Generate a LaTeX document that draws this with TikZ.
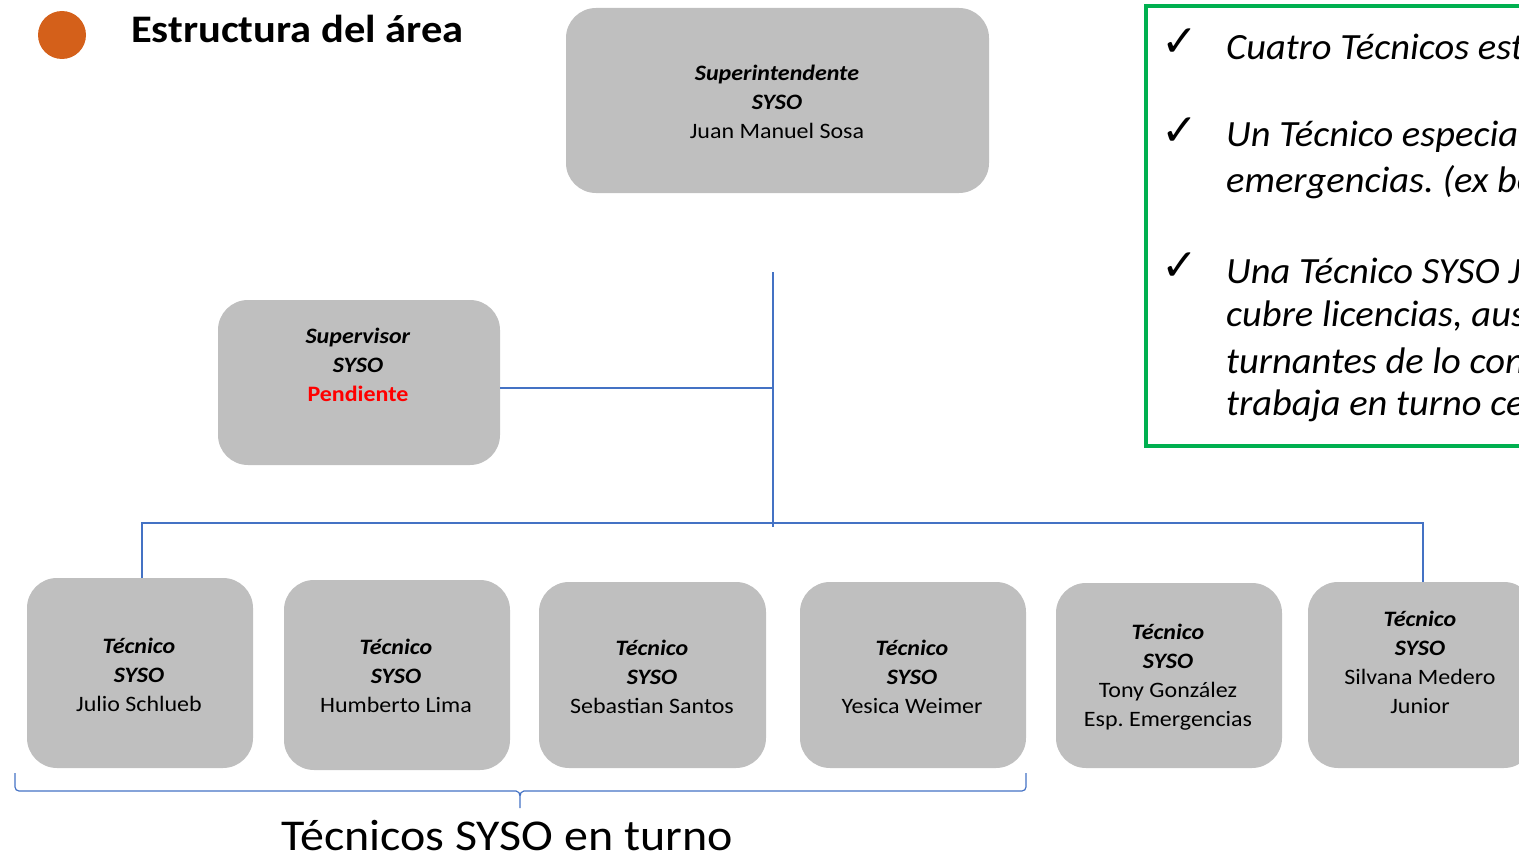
\documentclass[tikz,border=0pt]{standalone}
\usepackage{fontspec}
\usetikzlibrary{calc}
\setmainfont{Carlito}[FakeStretch=1.09]
\newfontfamily\notefont{Carlito}[FakeStretch=1.04]
\newfontfamily\symfont{DejaVu Sans}
\definecolor{boxgray}{HTML}{BFBFBF}
\definecolor{linkblue}{HTML}{4472C4}
\definecolor{okgreen}{HTML}{00B050}
\definecolor{dotorange}{HTML}{D4601A}
\frenchspacing
\begin{document}
\begin{tikzpicture}[x=1pt,y=-1pt,
  orgbox/.style={fill=boxgray,draw=none,rounded corners=30pt,inner sep=0pt},
  boxtext/.style={align=center,font=\fontsize{22}{29}\selectfont,inner sep=0pt},
  link/.style={draw=linkblue,line width=1.6pt},
  notetext/.style={anchor=west,font=\notefont\fontsize{37}{45}\selectfont\itshape,inner sep=0pt},
  tick/.style={font=\fontsize{44}{46}\selectfont\symfont,inner sep=0pt}]
\useasboundingbox (0,0) rectangle (1519,859);
\clip (0,0) rectangle (1519,859);
% title
\fill[dotorange] (62,35) circle (24);
\node[anchor=west,inner sep=0pt,font=\fontsize{39}{40}\selectfont\bfseries] (title) at (131,29) {Estructura del área};
% boxes
\node[orgbox,minimum width=423,minimum height=185] (sup) at (777.5,100.5) {};
\node[boxtext] (supT) at (777,102) {\textbf{\textit{Superintendente}}\\\textbf{\textit{SYSO}}\\Juan Manuel Sosa};
\node[orgbox,minimum width=282,minimum height=165] (spv) at (359,382.5) {};
\node[boxtext] (spvT) at (358,365) {\textbf{\textit{Supervisor}}\\\textbf{\textit{SYSO}}\\\textcolor{red}{\textbf{Pendiente}}};
\node[orgbox,minimum width=226,minimum height=190] (t1) at (140,673) {};
\node[boxtext] (t1T) at (139,675) {\textbf{\textit{Técnico}}\\\textbf{\textit{SYSO}}\\Julio Schlueb};
\node[orgbox,minimum width=226,minimum height=190] (t2) at (397,675) {};
\node[boxtext] (t2T) at (396,676) {\textbf{\textit{Técnico}}\\\textbf{\textit{SYSO}}\\Humberto Lima};
\node[orgbox,minimum width=227,minimum height=186] (t3) at (652.5,675) {};
\node[boxtext] (t3T) at (652,677) {\textbf{\textit{Técnico}}\\\textbf{\textit{SYSO}}\\Sebastian Santos};
\node[orgbox,minimum width=226,minimum height=186] (t4) at (913,675) {};
\node[boxtext] (t4T) at (912,677) {\textbf{\textit{Técnico}}\\\textbf{\textit{SYSO}}\\Yesica Weimer};
\node[orgbox,minimum width=226,minimum height=185] (t5) at (1169,675.5) {};
\node[boxtext] (t5T) at (1168,677.5) {\textbf{\textit{Técnico}}\\\textbf{\textit{SYSO}}\\Tony González\\Esp. Emergencias};
\node[orgbox,minimum width=226,minimum height=186] (t6) at (1421,675) {};
\node[boxtext] (t6T) at (1420,662) {\textbf{\textit{Técnico}}\\\textbf{\textit{SYSO}}\\Silvana Medero\\Junior};
% connectors
\coordinate (vtop) at (773,272);
\coordinate (vbot) at (773,527);
\coordinate (hl) at (142,523);
\coordinate (hr) at (1423,523);
\coordinate (spvout) at ($(spv.east)+(0,5.5)$);
\draw[link] (vtop) -- (vbot);
\draw[link] (spvout) -- (spvout -| vtop);
\draw[link] (t1.north -| hl) -- (hl) -- (hr) -- (t6.north -| hr);
% brace
\coordinate (bl) at (15,773);
\coordinate (br) at (1026,773);
\coordinate (bm) at (520,808);
\draw[draw=linkblue,line width=1.2pt]
  (bl) -- (15,787) to[out=-90,in=180] (19,791) -- (516,791) to[out=0,in=90] (bm |- 0,796) -- (bm)
  (bm |- 0,796) to[out=90,in=180] (524,791) -- (1022,791) to[out=0,in=-90] (1026,787) -- (br);
\node[inner sep=0pt,font=\fontsize{44}{46}\selectfont] (lbl) at (507,836) {Técnicos SYSO en turno};
% note box
\draw[okgreen,line width=3.5pt] (1146,6) rectangle (1540,446);
\node[tick] (c1) at (1180,43) {✓};
\node[tick] (c2) at (1180,132) {✓};
\node[tick] (c3) at (1180,267) {✓};
\node[notetext] (n1) at (1226,47) {Cuatro Técnicos estables};
\node[notetext] (n2) at (1226,137) {Un Técnico especialista en};
\node[notetext] (n3) at (1226,182) {emergencias. (ex bombero)};
\node[notetext] (n4) at (1226,271) {Una Técnico SYSO Junior};
\node[notetext] (n5) at (1226,316) {cubre licencias, ausencias};
\node[notetext] (n6) at (1226,361) {turnantes de lo contrario};
\node[notetext] (n7) at (1226,406) {trabaja en turno central};
\end{tikzpicture}
\end{document}
